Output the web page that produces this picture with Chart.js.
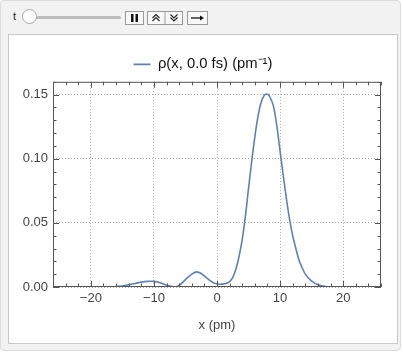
<!DOCTYPE html>
<html>
<head>
<meta charset="utf-8">
<script src="https://cdn.jsdelivr.net/npm/chart.js@4.4.0/dist/chart.umd.min.js"></script>
<style>
  html, body { margin: 0; padding: 0; background: #fff; }
  #panel {
    position: absolute; left: 0; top: 0; width: 399px; height: 349px;
    background: #f2f2f2; border: 1px solid #dcdcdc; border-radius: 4px;
  }
  #tlabel { position: absolute; left: 12px; top: 9px; font: 11px "Liberation Sans", sans-serif; color: #222; }
  #track { position: absolute; left: 24px; top: 15px; width: 96px; height: 3px; background: #bdbdbd; border-radius: 2px; }
  #thumb {
    position: absolute; left: 21px; top: 8px; width: 15px; height: 15px; border-radius: 50%;
    background: #fff; border: 1px solid #a8a8a8; box-sizing: border-box;
  }
  .btn { position: absolute; top: 10px; }
  #box {
    position: absolute; left: 7px; top: 33px; width: 388px; height: 308px;
    background: #fff; border: 1px solid #c8c8c8;
  }
  #chart { position: absolute; left: 0; top: 0; }
</style>
</head>
<body>
<div id="panel">
  <div id="tlabel">t</div>
  <div id="track"></div>
  <div id="thumb"></div>
  <svg class="btn" style="left:124px" width="19" height="14">
    <rect x="0.5" y="0.5" width="18" height="13" fill="#f8f8f8" stroke="#9a9a9a"/>
    <rect x="6" y="3" width="2.5" height="8" fill="#111"/>
    <rect x="10.5" y="3" width="2.5" height="8" fill="#111"/>
  </svg>
  <svg class="btn" style="left:146px" width="36" height="14">
    <rect x="0.5" y="0.5" width="35" height="13" fill="#f8f8f8" stroke="#9a9a9a"/>
    <line x1="18" y1="0" x2="18" y2="14" stroke="#9a9a9a"/>
    <polyline points="5.5,7 9,3.5 12.5,7" fill="none" stroke="#222" stroke-width="1.1"/>
    <polyline points="5.5,10 9,6.5 12.5,10" fill="none" stroke="#222" stroke-width="1.1"/>
    <polyline points="23.5,3.5 27,7 30.5,3.5" fill="none" stroke="#222" stroke-width="1.1"/>
    <polyline points="23.5,6.5 27,10 30.5,6.5" fill="none" stroke="#222" stroke-width="1.1"/>
  </svg>
  <svg class="btn" style="left:186px" width="21" height="14">
    <rect x="0.5" y="0.5" width="20" height="13" fill="#f8f8f8" stroke="#9a9a9a"/>
    <line x1="4" y1="7" x2="15" y2="7" stroke="#111" stroke-width="1.3"/>
    <polygon points="17,7 13,4.5 13,9.5" fill="#111"/>
  </svg>
  <div id="box"><canvas id="chart" width="388" height="308"></canvas></div>
</div>
<script>
'use strict';

// Position grid (pm) and density values.
const xValues = [
    -26, -20, -17, -16, -15, -14, -13, -12, -11, -10.3, -10, -9, -8, -7, -6.7,
    -6, -5, -4, -3.2, -2.5, -1.5, -0.5, 0.5, 1.2, 2, 2.5, 3, 3.5, 4, 4.5,
    5, 5.5, 6, 6.5, 7, 7.5, 7.8, 8.2, 8.5, 9, 9.5, 10, 10.5, 11, 11.5,
    12, 12.5, 13, 13.5, 14, 15, 16, 17, 18, 26,
];
const rhoValues = [
    0, 0, 0.0001, 0.0003, 0.0008, 0.0017, 0.0028, 0.0038, 0.0044, 0.0045, 0.0044, 0.0033, 0.0015, 0.0002, 0,
    0.0012, 0.0058, 0.0100, 0.0118, 0.0105, 0.0065, 0.0032, 0.0022, 0.0026, 0.0042, 0.0075, 0.0140, 0.0240, 0.0370, 0.0550,
    0.0770, 0.0980, 0.1170, 0.1330, 0.1440, 0.1495, 0.1505, 0.1497, 0.1470, 0.1400, 0.1250, 0.1060, 0.0870, 0.0690, 0.0530,
    0.0400, 0.0300, 0.0210, 0.0150, 0.0100, 0.0045, 0.0018, 0.0005, 0, 0,
];
const xTicks = [-20, -10, 0, 10, 20];
const yTicks = [0, 0.05, 0.10, 0.15];
const seriesLabel = 'ρ(x, 0.0 fs) (pm⁻¹)';

const lineColor = '#5e81b5';
const frameColor = '#555555';

/**
 * Frame with inward major and minor ticks on all four sides.
 */
const framePlugin = {
    id: 'frame',
    afterLayout: (chart) => {
        // Centre the legend on the whole panel rather than the padded area.
        chart.legend.left += 8;
        chart.legend.right += 8;
    },
    afterDatasetsDraw: (chart) => {
        const {ctx, chartArea: a, scales} = chart;
        const xs = scales.x;
        const ys = scales.y;
        ctx.save();
        ctx.strokeStyle = frameColor;
        ctx.lineWidth = 1;
        ctx.strokeRect(a.left + 0.5, a.top + 0.5, a.right - a.left - 1, a.bottom - a.top - 1);
        ctx.beginPath();
        for (let v = -26; v <= 26; v += 2) {
            const px = Math.round(xs.getPixelForValue(v)) + 0.5;
            const len = v % 10 === 0 ? 6 : 3.5;
            ctx.moveTo(px, a.bottom);
            ctx.lineTo(px, a.bottom - len);
            ctx.moveTo(px, a.top);
            ctx.lineTo(px, a.top + len);
        }
        for (let i = 0; i <= 16; i++) {
            const py = Math.round(ys.getPixelForValue(i / 100)) + 0.5;
            const len = i % 5 === 0 ? 6 : 3.5;
            ctx.moveTo(a.left, py);
            ctx.lineTo(a.left + len, py);
            ctx.moveTo(a.right, py);
            ctx.lineTo(a.right - len, py);
        }
        ctx.stroke();
        ctx.restore();
    },
};

const tickFont = {family: '"Liberation Sans", Arial, sans-serif', size: 13};

new Chart(document.getElementById('chart'), {
    type: 'line',
    data: {
        datasets: [{
            label: seriesLabel,
            data: xValues.map((x, i) => ({x: x, y: rhoValues[i]})),
            borderColor: lineColor,
            backgroundColor: lineColor,
            borderWidth: 1.6,
            pointRadius: 0,
            cubicInterpolationMode: 'monotone',
        }],
    },
    options: {
        responsive: false,
        animation: false,
        events: [],
        layout: {padding: {left: 0, right: 16, top: 9, bottom: 6}},
        plugins: {
            tooltip: {enabled: false},
            legend: {
                labels: {
                    usePointStyle: true,
                    pointStyle: 'line',
                    pointStyleWidth: 17,
                    padding: 13,
                    color: '#111',
                    font: {family: '"Liberation Sans", Arial, sans-serif', size: 14.8},
                },
            },
        },
        scales: {
            x: {
                type: 'linear',
                min: -26,
                max: 26,
                afterBuildTicks: (scale) => {
                    scale.ticks = xTicks.map((v) => ({value: v}));
                },
                afterFit: (scale) => {
                    scale.height = 50;
                },
                ticks: {
                    color: '#444',
                    font: tickFont,
                    padding: 4,
                    callback: (v) => String(v).replace('-', '\u2212'),
                },
                grid: {color: '#a8a8a8', drawTicks: false},
                border: {display: false, dash: [1, 2]},
                title: {
                    display: true,
                    text: 'x (pm)',
                    color: '#444',
                    font: tickFont,
                    padding: {top: 0},
                },
            },
            y: {
                type: 'linear',
                min: 0,
                max: 0.16,
                afterBuildTicks: (scale) => {
                    scale.ticks = yTicks.map((v) => ({value: v}));
                },
                afterFit: (scale) => {
                    scale.width = 44;
                },
                ticks: {
                    color: '#444',
                    font: tickFont,
                    padding: 5,
                    callback: (v) => v.toFixed(2),
                },
                grid: {color: '#a8a8a8', drawTicks: false},
                border: {display: false, dash: [1, 2]},
            },
        },
    },
    plugins: [framePlugin],
});
</script>
</body>
</html>
